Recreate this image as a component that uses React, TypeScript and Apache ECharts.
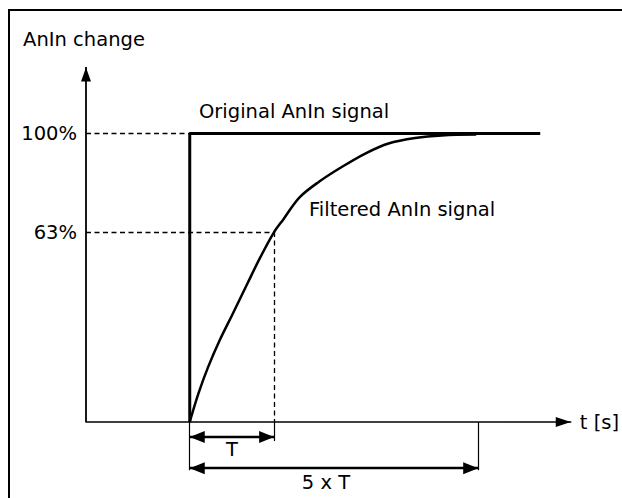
import React, { useEffect, useRef } from "react";
import * as echarts from "echarts";

// Axis ranges (time in arbitrary units, level in % of the step)
const timeRange = [0, 100];
const levelRange = [-20, 123];
const levelTop = 123;

// Key times and levels
const stepTime = 21.4;
const tauTime = 38.8;
const settleTime = 80.9;
const originalEnd = 93.7;
const level100 = 100;
const level63 = 65.8;

// Original (step) signal
const originalX = [stepTime, stepTime, originalEnd];
const originalY = [0, level100, level100];

// Filtered signal
const filteredX = [21.4, 23.2, 25.2, 27.6, 30.3, 33.3, 36.0, 38.8, 40.7, 44.1, 48.2, 53.0, 57.7, 62.4, 67.9, 73.4, 80.5];
const filteredY = [0, 9.9, 19.1, 28.4, 37.6, 48.0, 57.2, 65.8, 70.2, 77.9, 83.4, 88.6, 93.1, 96.5, 98.4, 99.3, 99.6];

// Annotation levels below the time axis
const tArrowLevel = -5.2;
const spanArrowLevel = -16.0;
const longTickLevel = -16.7;
const shortTickLevel = -6.6;

// Texts
const yAxisName = "AnIn change";
const xAxisName = "t [s]";
const label100 = "100%";
const label63 = "63%";
const originalName = "Original AnIn signal";
const filteredName = "Filtered AnIn signal";
const tLabel = "T";
const spanLabel = "5 x T";

const FONT = "'DejaVu Sans', sans-serif";
const FS = 19.5;

export default function App() {
  const ref = useRef<HTMLDivElement>(null);

  useEffect(() => {
    if (!ref.current) return;
    const chart = echarts.init(ref.current, null, { renderer: "svg" });

    const dashed = { color: "#000", width: 1.3, type: [5, 3.5] as any };
    const thin = { color: "#000", width: 1.2, type: "solid" as any };
    const arrowStyle = { color: "#000", width: 2.3, type: "solid" as any };
    const axisStyle = { color: "#000", width: 1.8, type: "solid" as any };
    const textStyleBase = { color: "#000", fontSize: FS, fontFamily: FONT };

    const markData: any[] = [
      // level axis with arrow
      [
        { coord: [timeRange[0], 0], lineStyle: axisStyle },
        { coord: [timeRange[0], levelTop], symbol: "triangle", symbolSize: [10, 14] },
      ],
      // 100% guide
      [
        {
          coord: [timeRange[0], level100],
          lineStyle: dashed,
          label: { show: true, position: "start", formatter: label100, distance: 9, ...textStyleBase },
        },
        { coord: [stepTime, level100] },
      ],
      // 63% guide
      [
        {
          coord: [timeRange[0], level63],
          lineStyle: dashed,
          label: { show: true, position: "start", formatter: label63, distance: 9, ...textStyleBase },
        },
        { coord: [tauTime, level63] },
      ],
      // vertical guide at T
      [{ coord: [tauTime, level63], lineStyle: dashed }, { coord: [tauTime, 0] }],
      // extension ticks
      [{ coord: [stepTime, 0], lineStyle: thin }, { coord: [stepTime, longTickLevel] }],
      [{ coord: [tauTime, 0], lineStyle: thin }, { coord: [tauTime, shortTickLevel] }],
      [{ coord: [settleTime, 0], lineStyle: thin }, { coord: [settleTime, longTickLevel] }],
      // T arrow
      [
        {
          coord: [stepTime, tArrowLevel],
          symbol: "triangle",
          lineStyle: arrowStyle,
          label: { show: true, position: "insideMiddleBottom", formatter: tLabel, distance: 2, ...textStyleBase },
        },
        { coord: [tauTime, tArrowLevel], symbol: "triangle" },
      ],
      // 5 x T arrow
      [
        {
          coord: [stepTime, spanArrowLevel],
          symbol: "triangle",
          lineStyle: arrowStyle,
          label: {
            show: true,
            position: "insideMiddleBottom",
            formatter: spanLabel,
            distance: 4,
            offset: [-8, 0],
            ...textStyleBase,
          },
        },
        { coord: [settleTime, spanArrowLevel], symbol: "triangle" },
      ],
    ];

    chart.setOption({
      animation: false,
      backgroundColor: "#fff",
      grid: { left: 86, right: 44, top: 67, bottom: 18.26, containLabel: false },
      xAxis: {
        type: "value",
        min: timeRange[0],
        max: timeRange[1],
        name: xAxisName,
        nameLocation: "end",
        nameGap: 9,
        nameTextStyle: { ...textStyleBase },
        axisLine: {
          show: true,
          onZero: true,
          symbol: ["none", "triangle"],
          symbolSize: [10, 15],
          symbolOffset: [0, -7.5],
          lineStyle: { color: "#000", width: 1.5 },
        },
        axisTick: { show: false },
        axisLabel: { show: false },
        splitLine: { show: false },
      },
      yAxis: {
        type: "value",
        min: levelRange[0],
        max: levelRange[1],
        axisLine: { show: false },
        axisTick: { show: false },
        axisLabel: { show: false },
        splitLine: { show: false },
      },
      graphic: [
        { type: "line", shape: { x1: 8, y1: 10, x2: 622, y2: 10 }, style: { stroke: "#000", lineWidth: 2 } },
        { type: "line", shape: { x1: 9, y1: 9, x2: 9, y2: 498 }, style: { stroke: "#000", lineWidth: 2 } },
        {
          type: "text",
          x: 84,
          y: 39,
          style: { text: yAxisName, fill: "#000", font: `${FS}px ${FONT}`, align: "center", verticalAlign: "middle" },
        },
        {
          type: "text",
          x: 199,
          y: 111.5,
          style: { text: originalName, fill: "#000", font: `${FS}px ${FONT}`, verticalAlign: "middle" },
        },
        {
          type: "text",
          x: 309,
          y: 209.5,
          style: { text: filteredName, fill: "#000", font: `${FS}px ${FONT}`, verticalAlign: "middle" },
        },
      ],
      series: [
        {
          name: "Original",
          type: "line",
          data: originalX.map((x, i) => [x, originalY[i]]),
          symbol: "none",
          clip: false,
          lineStyle: { color: "#000", width: 3 },
          z: 3,
          markLine: {
            silent: true,
            animation: false,
            symbol: ["none", "none"],
            symbolSize: [12, 15],
            symbolOffset: [
              [0, 7.5],
              [0, 7.5],
            ],
            label: { show: false },
            data: markData,
          },
        },
        {
          name: "Filtered",
          type: "line",
          data: filteredX.map((x, i) => [x, filteredY[i]]),
          symbol: "none",
          smooth: 0.35,
          clip: false,
          lineStyle: { color: "#000", width: 2.5 },
          z: 3,
        },
      ],
    });

    return () => chart.dispose();
  }, []);

  return (
    <div style={{ position: "fixed", left: 0, top: 0, width: 622, height: 498, overflow: "hidden", background: "#fff" }}>
      <style>{`html,body{margin:0;padding:0;overflow:hidden;background:#fff;}`}</style>
      <div ref={ref} style={{ position: "absolute", left: 0, top: 0, width: 622, height: 498 }} />
    </div>
  );
}
